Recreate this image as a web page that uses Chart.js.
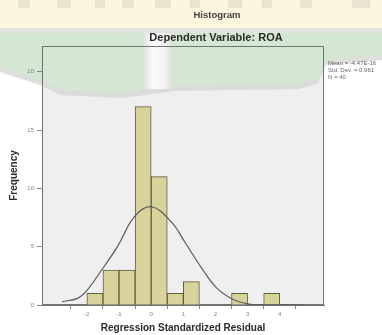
<!DOCTYPE html>
<html><head><meta charset="utf-8">
<script src="https://cdn.jsdelivr.net/npm/chart.js@4.4.0/dist/chart.umd.min.js"></script>
<style>html,body{margin:0;padding:0;background:#fff;overflow:hidden}#wrap{position:relative;width:382px;height:335px}</style>
</head><body><div id="wrap"><canvas id="c" width="382" height="335"></canvas></div>
<script>
// ---- data ----
const binCenters = [-1.75, -1.25, -0.75, -0.25, 0.25, 0.75, 1.25, 1.75, 2.25, 2.75, 3.25, 3.75];
const frequencies = [1, 3, 3, 17, 11, 1, 2, 0, 0, 1, 0, 1];
const curveX = [-2.78, -2.29, -2.03, -1.54, -1.05, -0.52, 0, 0.62, 1.07, 1.61, 2.05, 2.59, 3.12, 3.6, 4.75];
const curveY = [0.28, 0.57, 1.14, 3.0, 5.0, 7.57, 8.42, 7.14, 5.29, 3.0, 1.43, 0.43, 0.06, 0.01, 0];
const xTicks = [-2, -1, 0, 1, 2, 3, 4];
const yTicks = [0, 5, 10, 15, 20];
const statsLines = ['Mean = -4.47E-16', 'Std. Dev. = 0.961', 'N = 40'];
const chartTitle = 'Histogram';
const chartSubtitle = 'Dependent Variable: ROA';
const xTitle = 'Regression Standardized Residual';
const yTitle = 'Frequency';

const FONT = "'Liberation Sans', Arial, sans-serif";

const bgPlugin = {
  id: 'bg',
  beforeDraw(chart) {
    const { ctx, chartArea: a } = chart;
    ctx.save();
    ctx.fillStyle = '#ffffff'; ctx.fillRect(0, 0, 382, 335);
    ctx.fillStyle = '#efefef'; ctx.fillRect(a.left, a.top, a.right - a.left, a.bottom - a.top);
    ctx.fillStyle = '#fcf6de'; ctx.fillRect(0, 0, 382, 28);
    ctx.fillStyle = 'rgba(150,150,140,0.18)';
    [[18,0,12,8],[57,0,14,8],[95,0,10,8],[122,0,12,8],[155,0,16,8],[190,0,10,8],[228,0,14,8],[262,0,10,8],[300,0,12,8],[352,0,18,8]]
      .forEach(r => ctx.fillRect(r[0], r[1], r[2], r[3]));
    ctx.fillStyle = '#e3e3df'; ctx.fillRect(0, 28, 382, 5);
    const edge = [[0,67],[40,80],[60,90],[120,93],[145,90],[175,86],[300,84],[318,78],[326,60],[382,55]];
    ctx.fillStyle = 'rgba(214,214,212,0.8)';
    ctx.beginPath(); ctx.moveTo(0, 33); edge.forEach(p => ctx.lineTo(p[0], p[1] + 5)); ctx.lineTo(382, 33); ctx.closePath(); ctx.fill();
    ctx.fillStyle = '#d4e7d2';
    ctx.beginPath(); ctx.moveTo(0, 33); edge.forEach(p => ctx.lineTo(p[0], p[1])); ctx.lineTo(382, 33); ctx.closePath(); ctx.fill();
    const g = ctx.createLinearGradient(143, 0, 173, 0);
    g.addColorStop(0, '#e0e0dc'); g.addColorStop(0.35, '#fbfbfb'); g.addColorStop(0.7, '#f4f4f2'); g.addColorStop(1, '#dcdcd8');
    ctx.fillStyle = g; ctx.fillRect(143, 33, 30, 56);
    ctx.restore();
  },
  beforeDatasetsDraw(chart) {
    const { ctx, chartArea: a } = chart;
    ctx.save();
    ctx.strokeStyle = '#6f756f'; ctx.lineWidth = 1;
    ctx.strokeRect(Math.round(a.left) + 0.5, Math.round(a.top) + 0.5, Math.round(a.right - a.left) - 1, Math.round(a.bottom - a.top) - 1);
    ctx.restore();
  },
  afterDraw(chart) {
    const { ctx } = chart;
    ctx.save();
    ctx.textAlign = 'center'; ctx.textBaseline = 'middle';
    ctx.fillStyle = '#444';
    ctx.font = 'bold 9.5px ' + FONT; ctx.fillText(chartTitle, 217, 15);
    ctx.fillStyle = '#2a2a2a';
    ctx.font = 'bold 11px ' + FONT; ctx.fillText(chartSubtitle, 216, 38);
    ctx.textAlign = 'left'; ctx.fillStyle = '#666';
    ctx.font = '6px ' + FONT;
    statsLines.forEach((t, i) => ctx.fillText(t, 328, 63 + i * 7));
    ctx.restore();
  }
};

new Chart(document.getElementById('c'), {
  data: {
    datasets: [
      {
        type: 'line',
        order: 0,
        data: curveX.map((x, i) => ({ x, y: curveY[i] })),
        borderColor: '#5a5a5a',
        borderWidth: 1.2,
        pointRadius: 0,
        tension: 0.4,
        fill: false
      },
      {
        type: 'bar',
        order: 1,
        data: binCenters.map((x, i) => ({ x, y: frequencies[i] })),
        backgroundColor: '#d7d39b',
        borderColor: '#5f5d3e',
        borderWidth: 1,
        barPercentage: 1,
        categoryPercentage: 1
      }
    ]
  },
  plugins: [bgPlugin],
  options: {
    responsive: false,
    animation: false,
    devicePixelRatio: 1,
    layout: { padding: { left: 0, top: 46, right: 58, bottom: 0 } },
    plugins: { legend: { display: false }, tooltip: { enabled: false } },
    scales: {
      x: {
        type: 'linear', min: -2.77, max: 4.75,
        afterBuildTicks: s => { s.ticks = xTicks.map(v => ({ value: v })); },
        afterFit: s => { s.height = 30; },
        grid: { drawOnChartArea: false, tickLength: 4, color: '#8a8a8a' },
        border: { color: '#6f756f' },
        ticks: { font: { size: 6, family: FONT }, color: '#7d8196', padding: 2, maxRotation: 0, autoSkip: false },
        title: { display: true, text: xTitle, font: { size: 10, weight: 'bold', family: FONT }, color: '#2a2a2a', padding: { top: 0, bottom: 1 } }
      },
      y: {
        type: 'linear', min: 0, max: 22.2,
        afterBuildTicks: s => { s.ticks = yTicks.map(v => ({ value: v })); },
        afterFit: s => { s.width = 42; },
        grid: { drawOnChartArea: false, tickLength: 5, color: '#8a8a8a' },
        border: { color: '#6f756f' },
        ticks: { font: { size: 6, family: FONT }, color: '#7d8196', padding: 3, autoSkip: false },
        title: { display: true, text: yTitle, font: { size: 10, weight: 'bold', family: FONT }, color: '#2a2a2a', padding: { top: 8.5, bottom: 0 } }
      }
    }
  }
});
</script></body></html>
